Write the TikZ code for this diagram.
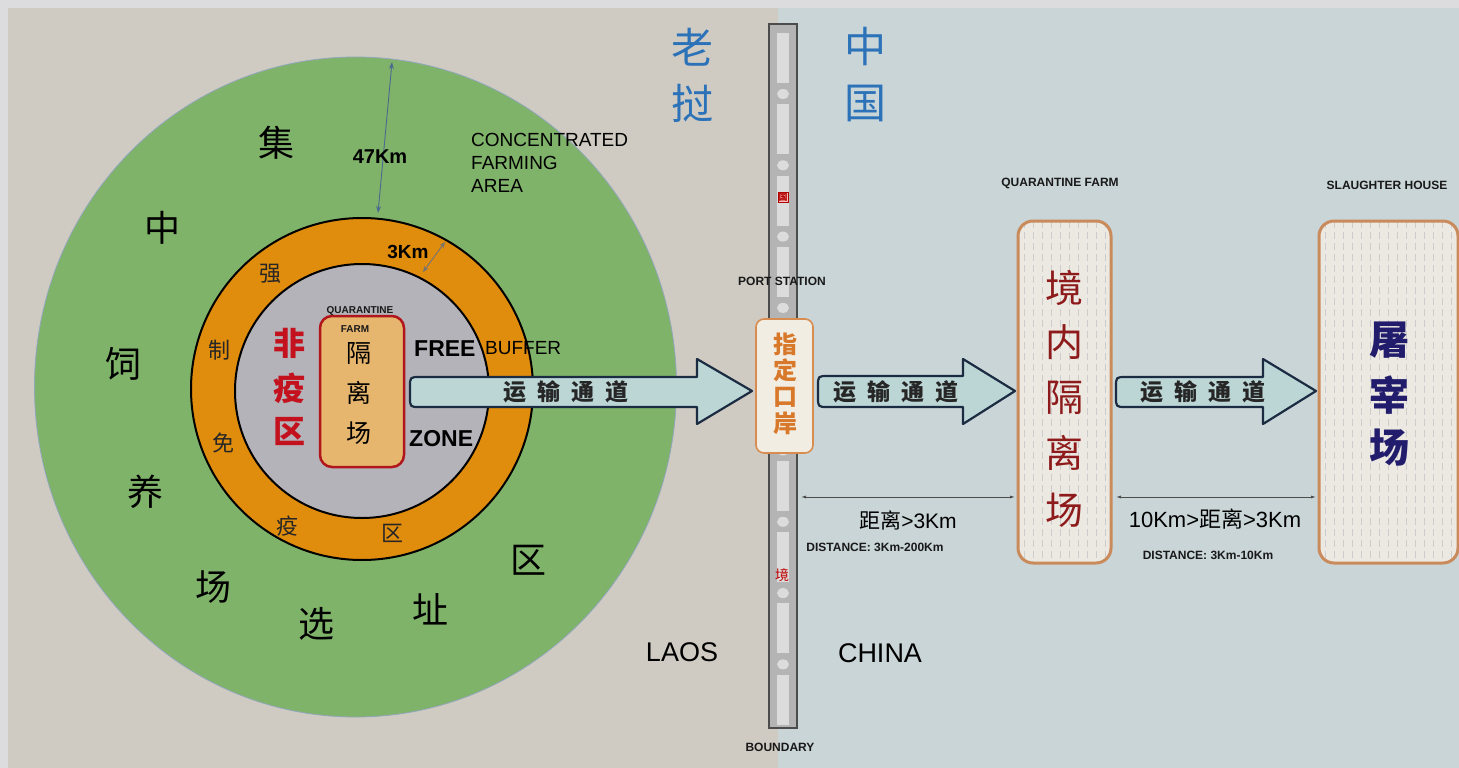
\documentclass[tikz,border=0pt]{standalone}
\usepackage{fontspec}
\setmainfont{Liberation Sans}
\newfontfamily\cjk{Noto Sans CJK SC}
\usetikzlibrary{arrows.meta}
\newcommand{\myfs}[1]{\fontsize{#1}{#1}\selectfont}
\definecolor{bordgray}{HTML}{DCDBDD}
\definecolor{beigebg}{HTML}{CFCBC2}
\definecolor{bluebg}{HTML}{CAD5D7}
\definecolor{ringgreen}{HTML}{80B36A}
\definecolor{ringorange}{HTML}{E08C0C}
\definecolor{ringgray}{HTML}{B4B3B9}
\definecolor{tanfill}{HTML}{E6B56E}
\definecolor{qred}{HTML}{B0161C}
\definecolor{fyred}{HTML}{C3121E}
\definecolor{arrfill}{HTML}{BCD6D6}
\definecolor{arrdraw}{HTML}{1B2B42}
\definecolor{portdraw}{HTML}{D88C50}
\definecolor{portfill}{HTML}{F2EDE2}
\definecolor{porttext}{HTML}{D8782A}
\definecolor{boxdraw}{HTML}{C98B5C}
\definecolor{boxfill}{HTML}{ECE8E2}
\definecolor{qtext}{HTML}{8E1B1B}
\definecolor{shtext}{HTML}{221C6C}
\definecolor{cnblue}{HTML}{2B72B8}
\definecolor{bargray}{HTML}{B4B4B4}
\definecolor{barlight}{HTML}{DCDCDC}
\definecolor{dimblue}{HTML}{4A6A90}
\newcommand{\tarrow}[8]{%
  \draw[bigarrow] (#4,#2) -- ({#1+10},#2) .. controls (#1,#2) .. (#1,{#2+10})
    -- (#1,{#3-10}) .. controls (#1,#3) .. ({#1+10},#3) -- (#4,#3) -- (#4,#6)
    -- (#7,#8) -- (#4,#5) -- cycle;}
\begin{document}
\begin{tikzpicture}[x=1pt,y=-1pt,
  bigarrow/.style={fill=arrfill, draw=arrdraw, line width=2.2, line join=round},
  ch/.style={font=\cjk\myfs{36}, inner sep=0, text=black},
  rc/.style={font=\cjk\myfs{22}, inner sep=0, text=black!85},
  small/.style={font=\bfseries\myfs{12}, inner sep=0, text=black!90},
  road/.style={font=\cjk\bfseries\myfs{23}, inner sep=0, text=black!85},
  tex/.style={draw=black!20, line width=0.6, dash pattern=on 7pt off 4pt},
  dist/.style={draw=black!70, line width=0.8, {Latex[length=5,width=3]}-{Latex[length=5,width=3]}},
  box/.style={draw=boxdraw, line width=3, rounded corners=15}
]
\useasboundingbox (0,0) rectangle (1459,768);
% backgrounds
\fill[bordgray] (0,0) rectangle (1459,768);
\fill[beigebg] (8,8) rectangle (778,768);
\fill[bluebg] (778,8) rectangle (1459,768);

% rings
\filldraw[fill=ringgreen, draw=dimblue!60, line width=0.8] (355.5,387) ellipse [x radius=321, y radius=330];
\filldraw[fill=ringorange, draw=black, line width=2] (362,389) circle [radius=171];
\filldraw[fill=ringgray, draw=black, line width=2] (362,391) circle [radius=127];

% green ring characters
\node[ch] (g1) at (276,143) {集};
\node[ch] (g2) at (162,228) {中};
\node[ch] (g3) at (123,364) {饲};
\node[ch] (g4) at (145,492) {养};
\node[ch] (g5) at (213,587) {场};
\node[ch] (g6) at (316,624) {选};
\node[ch] (g7) at (430,609) {址};
\node[ch] (g8) at (528,560) {区};

% orange ring characters
\node[rc] (o1) at (270,274) {强};
\node[rc] (o2) at (219,350) {制};
\node[rc] (o3) at (223,443) {免};
\node[rc] (o4) at (287,526) {疫};
\node[rc] (o5) at (392,533) {区};

% dimensions
\coordinate (d47a) at (392,62);
\coordinate (d47b) at (378,213);
\draw[draw=dimblue, line width=0.9, {Stealth[length=7,width=5,open]}-{Stealth[length=7,width=5,open]}] (d47a) -- (d47b);
\node[font=\bfseries\myfs{20}, inner sep=0] (t47) at (380,157) {47Km};
\coordinate (d3a) at (445,242);
\coordinate (d3b) at (423,272);
\draw[draw=black!55, line width=0.9, {Stealth[length=6,width=5,open]}-{Stealth[length=6,width=5,open]}] (d3a) -- (d3b);
\node[font=\bfseries\myfs{19}, inner sep=0] (t3) at (408,252) {3Km};
\node[font=\fontsize{19}{23}\selectfont, inner sep=0, align=left, anchor=north west] (caf) at (471,133) {CONCENTRATED\\FARMING\\AREA};

% free zone labels
\node[font=\cjk\bfseries\myfs{32}, text=fyred, inner sep=0] (fy1) at (289,343) {非};
\node[font=\cjk\bfseries\myfs{32}, text=fyred, inner sep=0] (fy2) at (289,388) {疫};
\node[font=\cjk\bfseries\myfs{32}, text=fyred, inner sep=0] (fy3) at (289,431) {区};
\node[font=\bfseries\myfs{23}, inner sep=0, anchor=west] (free) at (414,349) {FREE};
\node[font=\myfs{19}, inner sep=0, anchor=west] (buf) at (485,348) {BUFFER};
\node[font=\bfseries\myfs{23}, inner sep=0, anchor=west] (zone) at (409,439) {ZONE};

% quarantine farm in Laos
\node[draw=qred, fill=tanfill, line width=2.5, rounded corners=12, minimum width=84, minimum height=151] (qf) at (362,391.5) {};
\node[small, font=\bfseries\myfs{10}] (qft1) at (360,311) {QUARANTINE};
\node[small, font=\bfseries\myfs{10}] (qft2) at (355,329) {FARM};
\node[font=\cjk\myfs{25}, inner sep=0] (q1) at (359,353) {隔};
\node[font=\cjk\myfs{25}, inner sep=0] (q2c) at (359,393) {离};
\node[font=\cjk\myfs{25}, inner sep=0] (q3) at (359,433) {场};

% boundary bar
\node[draw=black!70, fill=bargray, line width=1.2, minimum width=28, minimum height=704, inner sep=0] (bd) at (783,376) {};
\foreach \k in {0,...,9}{
  \pgfmathsetmacro{\ya}{33+71.3*\k}
  \fill[barlight] (777,\ya) rectangle (789,\ya+50);
  \ifnum\k<9 \fill[barlight] (783,\ya+61) ellipse [x radius=6, y radius=5]; \fi
}
\node[draw=red!70!black, fill=red!25, inner sep=0.6, font=\cjk\bfseries\myfs{9}, text=red!70!black] (guo) at (783,197) {国};
\node[font=\cjk\myfs{14}, text=red!75!black, inner sep=0] (jing) at (782,575) {境};
\node[small] (pst) at (782,281) {PORT STATION};
\node[small] (bdl) at (780,747) {BOUNDARY};

% country names
\node[font=\cjk\myfs{42}, text=cnblue, inner sep=0] (la1) at (692,47) {老};
\node[font=\cjk\myfs{42}, text=cnblue, inner sep=0] (la2) at (692,103) {挝};
\node[font=\cjk\myfs{42}, text=cnblue, inner sep=0] (cn1) at (865,47) {中};
\node[font=\cjk\myfs{42}, text=cnblue, inner sep=0] (cn2) at (865,103) {国};
\node[font=\myfs{27}, inner sep=0] (laos) at (682,652) {LAOS};
\node[font=\myfs{27}, inner sep=0] (china) at (880,653) {CHINA};

% port station
\node[draw=portdraw, fill=portfill, line width=1.6, rounded corners=8, minimum width=57, minimum height=134] (port) at (784.5,386) {};
\foreach \c/\yy in {指/344,定/370,口/397,岸/423}
  \node[font=\cjk\bfseries\myfs{24}, text=porttext, inner sep=0] at (785,\yy) {\c};

% quarantine farm in China
\fill[boxfill, rounded corners=15] (1018,221) rectangle (1111,563);
\begin{scope}
  \clip[rounded corners=15] (1018,221) rectangle (1111,563);
  \foreach \x in {1024,1033,...,1108} \draw[tex] (\x,221) -- (\x,563);
\end{scope}
\node[box, minimum width=93, minimum height=342] (qc) at (1064.5,392) {};
\foreach \c/\yy in {境/288,内/342,隔/398,离/453,场/510}
  \node[font=\cjk\myfs{38}, text=qtext, inner sep=0] at (1064,\yy) {\c};
\node[small] (qcl) at (1060,183) {QUARANTINE FARM};

% slaughter house
\fill[boxfill, rounded corners=15] (1319,221) rectangle (1458,563);
\begin{scope}
  \clip[rounded corners=15] (1319,221) rectangle (1458,563);
  \foreach \x in {1325,1334,...,1456} \draw[tex] (\x,221) -- (\x,563);
\end{scope}
\node[box, minimum width=139, minimum height=342] (sh) at (1388.5,392) {};
\foreach \c/\yy in {屠/340,宰/395,场/448}
  \node[font=\cjk\bfseries\myfs{40}, text=shtext, inner sep=0] at (1389,\yy) {\c};
\node[small] (shl) at (1387,185) {SLAUGHTER HOUSE};

% transport arrows
\tarrow{410}{377}{407}{697}{359}{424}{752}{391}
\tarrow{818}{376}{407}{963}{359}{424}{1015}{391}
\tarrow{1116}{377}{407}{1263}{359}{424}{1316}{391}
\node[road] (r1) at (566,392) {运\hspace{11pt}输\hspace{11pt}通\hspace{11pt}道};
\node[road] (r2) at (896,392) {运\hspace{11pt}输\hspace{11pt}通\hspace{11pt}道};
\node[road] (r3) at (1203,392) {运\hspace{11pt}输\hspace{11pt}通\hspace{11pt}道};

% distances
\coordinate (da1) at (801,497);
\coordinate (da2) at (1015,497);
\coordinate (db1) at (1116,497);
\coordinate (db2) at (1316,497);
\draw[dist] (da1) -- (da2);
\draw[dist] (db1) -- (db2);
\node[font=\myfs{21}, inner sep=0] (dt1) at (908,520) {{\cjk 距离}>3Km};
\node[small] (ds1) at (875,547) {DISTANCE: 3Km-200Km};
\node[font=\myfs{22}, inner sep=0] (dt2) at (1215,519) {10Km>{\cjk 距离}>3Km};
\node[small] (ds2) at (1208,555) {DISTANCE: 3Km-10Km};
\end{tikzpicture}
\end{document}
